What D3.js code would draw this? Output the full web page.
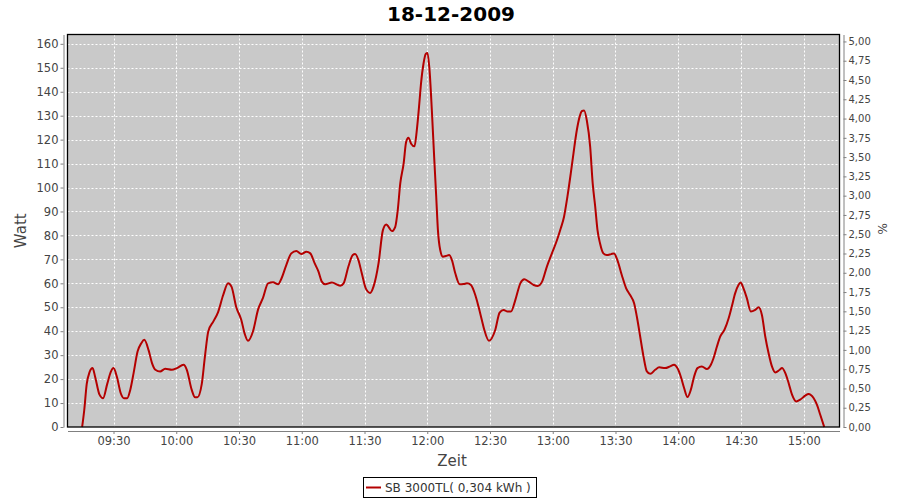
<!DOCTYPE html>
<html>
<head>
<meta charset="utf-8">
<script src="https://cdn.jsdelivr.net/npm/d3@7"></script>
<style>
  html, body { margin: 0; padding: 0; background: #ffffff; }
  svg { display: block; }
  text { font-family: "DejaVu Sans", sans-serif; }
</style>
</head>
<body>
<svg id="chart" width="900" height="500"></svg>
<script>
// ---- data ----
const title = "18-12-2009";
const seriesName = "SB 3000TL( 0,304 kWh )";
const times = [
  "09:15:00","09:16:00","09:17:12","09:18:30","09:20:00","09:21:12","09:23:18","09:25:00","09:27:00","09:28:42",
  "09:30:00","09:31:36","09:33:30","09:35:00","09:36:30","09:38:00","09:39:36","09:41:30","09:43:18","09:44:42",
  "09:46:48","09:48:24","09:50:00","09:52:18","09:54:42","09:57:54","10:00:18","10:03:30","10:05:00","10:07:24",
  "10:09:00","10:10:06","10:12:12","10:13:42","10:15:18","10:17:42","10:20:00","10:22:24","10:24:48","10:26:24",
  "10:28:42","10:31:06","10:32:42","10:34:18","10:36:42","10:39:06","10:41:30","10:43:54","10:46:18","10:48:42",
  "10:50:18","10:52:36","10:55:00","10:57:24","10:59:48","11:02:12","11:04:06","11:06:12","11:08:00","11:09:36",
  "11:11:12","11:14:24","11:18:24","11:20:00","11:22:18","11:24:24","11:25:30","11:27:06","11:28:42","11:30:36",
  "11:32:42","11:34:18","11:36:42","11:38:48","11:40:24","11:41:30","11:43:06","11:44:42","11:45:54","11:47:06",
  "11:48:42","11:49:54","11:51:00","11:52:18","11:53:54","11:55:00","11:56:12","11:57:00","11:58:12","11:59:18",
  "12:00:06","12:01:06","12:02:12","12:03:18","12:04:18","12:05:06","12:06:12","12:07:30","12:08:54","12:10:30",
  "12:11:48","12:13:24","12:15:30","12:17:24","12:19:00","12:20:54","12:23:00","12:24:30","12:26:06","12:27:18",
  "12:29:30","12:32:30","12:34:36","12:36:30","12:38:24","12:40:00","12:42:06","12:44:30","12:46:24","12:48:30",
  "12:50:54","12:52:48","12:54:54","12:57:12","12:59:36","13:02:00","13:03:48","13:05:24","13:07:00","13:08:36",
  "13:09:54","13:11:30","13:12:48","13:13:54","13:15:00","13:16:18","13:17:54","13:19:06","13:20:18","13:21:24",
  "13:22:36","13:24:12","13:25:48","13:27:54","13:29:18","13:30:54","13:33:00","13:35:06","13:37:00","13:38:54",
  "13:40:30","13:41:48","13:43:24","13:45:00","13:46:36","13:49:00","13:50:54","13:53:42","13:56:06","13:58:00",
  "13:59:36","14:01:12","14:02:48","14:04:24","14:06:00","14:07:36","14:09:12","14:11:18","14:13:42","14:15:36",
  "14:16:54","14:18:30","14:20:06","14:22:06","14:24:06","14:25:36","14:27:12","14:28:48","14:29:48","14:31:12",
  "14:32:48","14:34:42","14:36:48","14:38:24","14:40:00","14:41:36","14:43:12","14:44:48","14:46:24","14:48:30",
  "14:49:36","14:51:12","14:52:48","14:54:24","14:56:24","14:58:18","15:00:42","15:02:18","15:04:42","15:06:18",
  "15:07:54","15:09:48"
];
const watt = [
  0,7,18,22.8,24.6,21,13.5,12,18,23,
  24.6,21,14,12,12,15.5,22.5,31.5,35,36.4,
  32,26.7,23.9,23.2,24.3,23.9,24.6,26,24,15.5,
  12.4,12.4,18,29.4,39.9,44,48,55,60,58.6,
  50,44.7,39,36,40,49,54,60,60.4,59.6,
  62,67.6,72.5,73.5,72.2,73.2,72.5,68.3,64.9,60.7,
  59.6,60.3,59,60,67,71.8,72.2,69.7,64.2,57.9,
  56,58.6,68.3,82.2,84.6,83.6,81.8,83.6,90.6,101.7,
  110,119,120.8,118.3,117.2,123.9,135,143.3,151.7,155.8,
  156.2,148.9,132.2,112.8,96,82.2,73.9,71.1,71.4,71.8,
  69.7,64.2,59.6,59.7,60,59.3,55,50.3,44.7,40.5,
  36,40.5,47.8,48.9,48.2,48.2,53,60,61.7,60.7,
  59.3,58.9,60.7,67,72.5,78,82.9,87.8,96.1,105.8,
  114.2,123.9,129.4,131.9,132.2,128,117,101.7,92,82.2,
  76.7,72.5,71.8,72.2,72.5,69.7,63.5,57.9,55.1,51.7,
  44.7,37.8,29.4,23.2,22.2,23.9,24.9,24.6,25.3,26,
  24.6,21.1,16.3,12.5,15.5,21.1,24.6,25.3,24.2,26,
  28.8,33.6,37.8,40.6,45.4,50.3,55.8,59.3,60.3,57.9,
  53.8,48.2,48.9,50,46.8,37.8,30.8,25.3,22.8,23.9,
  24.6,22.5,18.3,13.5,10.7,11.4,13.1,13.8,12.1,9.3,
  5.1,0
];
const xDomain = ["09:08:00", "15:17:06"];
const xTicks = ["09:30","10:00","10:30","11:00","11:30","12:00","12:30","13:00","13:30","14:00","14:30","15:00"];
const leftTicks = [0,10,20,30,40,50,60,70,80,90,100,110,120,130,140,150,160];
const rightTicks = [0,0.25,0.5,0.75,1,1.25,1.5,1.75,2,2.25,2.5,2.75,3,3.25,3.5,3.75,4,4.25,4.5,4.75,5];
const leftMax = 163.9;
const rightMax = 5.09;

// ---- layout ----
const svg = d3.select("#chart");
const plot = { left: 67.5, right: 839.5, top: 34.5, bottom: 427 };
const parseT = d3.timeParse("%H:%M:%S");
const parseHM = d3.timeParse("%H:%M");
const data = times.map((t, i) => ({ t: parseT(t), v: watt[i] }));

const x = d3.scaleTime().domain(xDomain.map(parseT)).range([plot.left, plot.right]);
const y = d3.scaleLinear().domain([0, leftMax]).range([plot.bottom, plot.top]);
const y2 = d3.scaleLinear().domain([0, rightMax]).range([plot.bottom, plot.top]);

// background
svg.append("rect").attr("x", plot.left).attr("y", plot.top)
  .attr("width", plot.right - plot.left).attr("height", plot.bottom - plot.top)
  .attr("fill", "#c9c9c9");

// gridlines
const grid = svg.append("g").attr("stroke", "#ffffff").attr("stroke-width", 1).attr("stroke-dasharray", "2,2");
leftTicks.filter(d => d > 0).forEach(d => {
  grid.append("line").attr("x1", plot.left).attr("x2", plot.right)
    .attr("y1", Math.round(y(d)) + 0.5).attr("y2", Math.round(y(d)) + 0.5);
});
xTicks.forEach(d => {
  const xx = Math.round(x(parseHM(d))) + 0.5;
  grid.append("line").attr("x1", xx).attr("x2", xx).attr("y1", plot.top).attr("y2", plot.bottom);
});

// line
const line = d3.line().x(d => x(d.t)).y(d => y(d.v)).curve(d3.curveMonotoneX);
svg.append("path").datum(data).attr("d", line)
  .attr("fill", "none").attr("stroke", "#b40000").attr("stroke-width", 2).attr("stroke-linejoin", "round");

// plot border
svg.append("rect").attr("x", plot.left).attr("y", plot.top)
  .attr("width", plot.right - plot.left).attr("height", plot.bottom - plot.top)
  .attr("fill", "none").attr("stroke", "#000000").attr("stroke-width", 1.3);

// axes
function styleAxis(g) {
  g.selectAll(".domain").attr("stroke", "#808080");
  g.selectAll(".tick line").attr("stroke", "#808080");
  g.selectAll(".tick text").attr("fill", "#444444").style("font-size", "11.5px").style("font-family", "DejaVu Sans, sans-serif");
}
const gx = svg.append("g").attr("transform", `translate(0,${plot.bottom + 4})`)
  .call(d3.axisBottom(x).tickValues(xTicks.map(parseHM)).tickFormat(d3.timeFormat("%H:%M")).tickSizeInner(3).tickSizeOuter(0).tickPadding(3));
styleAxis(gx);

const gy = svg.append("g").attr("transform", `translate(${plot.left - 4},0)`)
  .call(d3.axisLeft(y).tickValues(leftTicks).tickSizeInner(3).tickSizeOuter(0).tickPadding(2));
styleAxis(gy);

const fmt2 = d => d3.format(".2f")(d).replace(".", ",");
const gy2 = svg.append("g").attr("transform", `translate(${plot.right + 4},0)`)
  .call(d3.axisRight(y2).tickValues(rightTicks).tickFormat(fmt2).tickSizeInner(3).tickSizeOuter(0).tickPadding(2));
styleAxis(gy2);
gy2.selectAll(".tick text").style("font-size", "10px");

// title
svg.append("text").attr("x", 451).attr("y", 21).attr("text-anchor", "middle")
  .style("font-size", "20px").style("font-weight", "bold").attr("fill", "#000").text(title);

// axis labels
svg.append("text").attr("x", 452).attr("y", 466).attr("text-anchor", "middle")
  .style("font-size", "15px").attr("fill", "#444").text("Zeit");
svg.append("text").attr("transform", `translate(26,${(plot.top + plot.bottom) / 2}) rotate(-90)`)
  .attr("text-anchor", "middle").style("font-size", "15px").attr("fill", "#444").text("Watt");
svg.append("text").attr("transform", `translate(887,${(plot.top + plot.bottom) / 2 - 2}) rotate(-90)`)
  .attr("text-anchor", "middle").style("font-size", "12px").attr("fill", "#444").text("%");

// legend
const lg = svg.append("g");
lg.append("rect").attr("x", 363.5).attr("y", 477.5).attr("width", 173).attr("height", 20)
  .attr("fill", "#fff").attr("stroke", "#000").attr("stroke-width", 1);
lg.append("line").attr("x1", 366).attr("x2", 381).attr("y1", 487.5).attr("y2", 487.5)
  .attr("stroke", "#b40000").attr("stroke-width", 2);
lg.append("text").attr("x", 385).attr("y", 492).style("font-size", "12px").attr("fill", "#333").text(seriesName);
</script>
</body>
</html>
